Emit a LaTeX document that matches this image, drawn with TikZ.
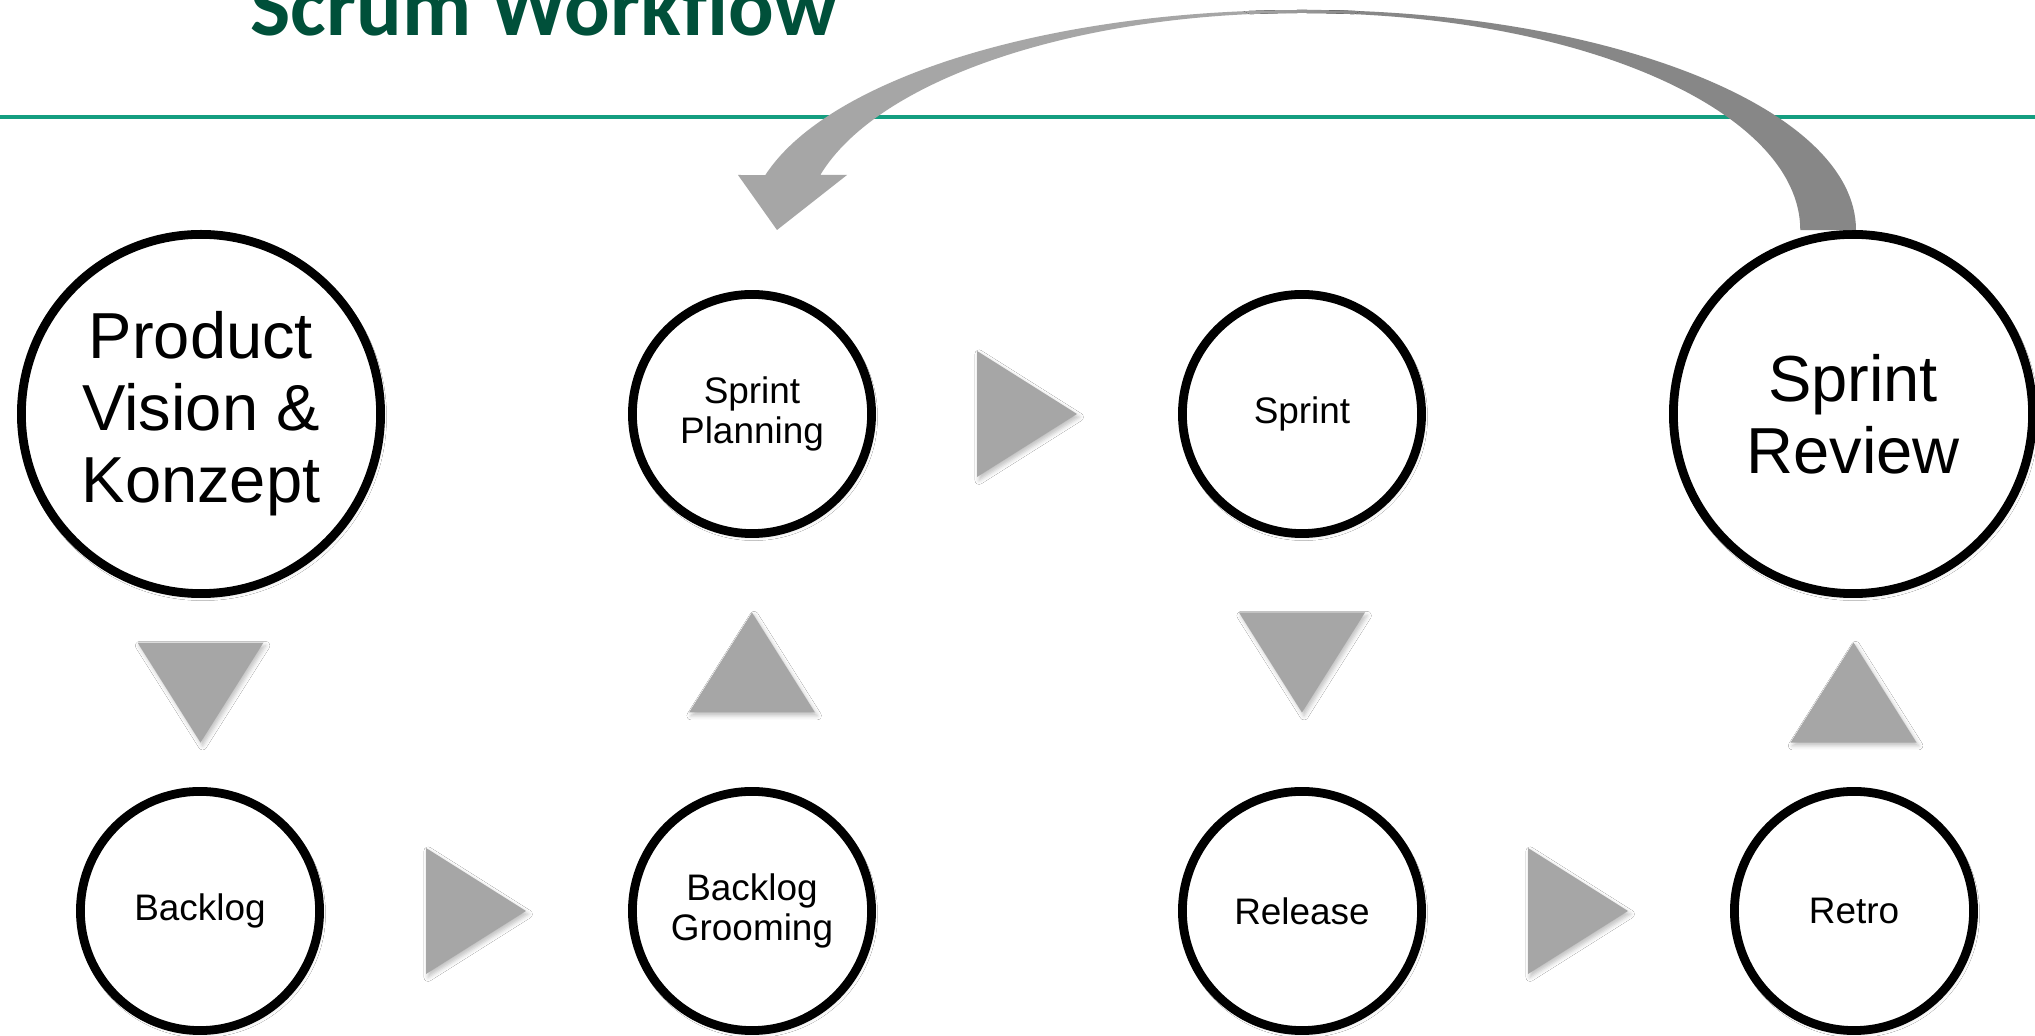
\documentclass[tikz,border=0pt]{standalone}
\usepackage{fontspec}
\setmainfont{Liberation Sans}
\newfontfamily\headfont{Carlito}
\usetikzlibrary{calc,shadows.blur}

\definecolor{headgreen}{RGB}{0,80,58}
\definecolor{rulegreen}{RGB}{20,158,128}
\definecolor{triGray}{RGB}{166,166,166}
\definecolor{loopLight}{RGB}{166,166,166}
\definecolor{loopDark}{RGB}{135,135,135}
\definecolor{loopGlow}{RGB}{238,238,238}

\tikzset{
  stage/.style={circle, draw=black, line width=2.5pt, fill=white,
    inner sep=0pt, align=center,
    blur shadow={shadow xshift=0.5pt, shadow yshift=-0.8pt,
      shadow blur radius=1.2pt, shadow opacity=18}},
  bigstage/.style={stage, minimum size=3.59cm,
    font=\fontsize{18.5}{20.5}\selectfont},
  smallstage/.style={stage, minimum size=2.39cm,
    font=\fontsize{10.5}{11.5}\selectfont},
  flowtri/.style={fill=triGray,
    blur shadow={shadow xshift=0.6pt, shadow yshift=-0.9pt,
      shadow blur radius=1.2pt, shadow opacity=25}},
  outerarc/.style={x radius=5.54cm, y radius=2.20cm},
  innerarc/.style={x radius=4.98cm, y radius=2.17cm},
}

\begin{document}
\begin{tikzpicture}[x=0.01cm, y=0.01cm]
  \clip (0,0) rectangle (2035,1036);
  \fill[white] (0,0) rectangle (2035,1036);

  % heading and rule
  \node[anchor=base west, inner sep=0pt, text=headgreen,
    font=\headfont\bfseries\fontsize{24.2}{29}\selectfont]
    (title) at (250,1000.5) {Scrum Workflow};
  \draw[rulegreen, line width=0.9pt] (0,919) -- (2035,919);

  % stages
  \node[bigstage]   (pv)     at (201,622)  {Product\\Vision \&\\Konzept};
  \node[smallstage] (plan)   at (752,622)  {Sprint\\Planning};
  \node[smallstage] (sprint) at (1302,622) {Sprint};
  \node[bigstage]   (review) at (1853,622) {Sprint\\Review};
  \node[smallstage] (backlog) at (200,125)  {Backlog};
  \node[smallstage] (groom)   at (752,125)  {Backlog\\Grooming};
  \node[smallstage] (release) at (1302,125) {Release};
  \node[smallstage] (retro)   at (1854,125) {Retro};

  % flow triangles, centred in the gaps between stages
  \coordinate (t1) at ($(pv.south)!0.5!(backlog.north)$);
  \coordinate (t2) at ($(backlog.east)!0.5!(groom.west)$);
  \coordinate (t3) at ($(groom.north)!0.5!(plan.south)$);
  \coordinate (t4) at ($(plan.east)!0.5!(sprint.west)$);
  \coordinate (t5) at ($(sprint.south)!0.5!(release.north)$);
  \coordinate (t6) at ($(release.east)!0.5!(retro.west)$);
  \coordinate (t7) at ($(retro.north)!0.5!(review.south)$);
  \foreach \c/\r in {t1/-90, t2/0, t3/90, t4/0, t5/-90, t6/0, t7/90}
    \fill[flowtri, shift={(\c)}, rotate=\r] (-50,-63) -- (-50,63) -- (50,0) -- cycle;

  % return loop from the review back to planning (ellipse centre 1302,806)
  \coordinate (loopc) at (1302,806);
  \fill[loopDark] ($(loopc)+(554,0)$)
    arc[start angle=0, end angle=90, outerarc]
    -- ($(loopc)+(0,217)$)
    arc[start angle=90, end angle=0, innerarc]
    -- cycle;
  \fill[loopLight] ($(loopc)+(0,220)$)
    arc[start angle=90, end angle=165.52, outerarc]
    -- (738,861) -- (777,806) -- (847,861) -- (820.3,861)
    arc[start angle=165.32, end angle=90, innerarc]
    -- cycle;
  % soft highlight over the crest
  \fill[left color=loopLight, middle color=loopGlow, right color=loopDark]
    ($(loopc)+({554*cos(84)},{220*sin(84)})$)
    arc[start angle=84, end angle=96, outerarc]
    -- ($(loopc)+({498*cos(96)},{217*sin(96)})$)
    arc[start angle=96, end angle=84, innerarc]
    -- cycle;
\end{tikzpicture}
\end{document}
